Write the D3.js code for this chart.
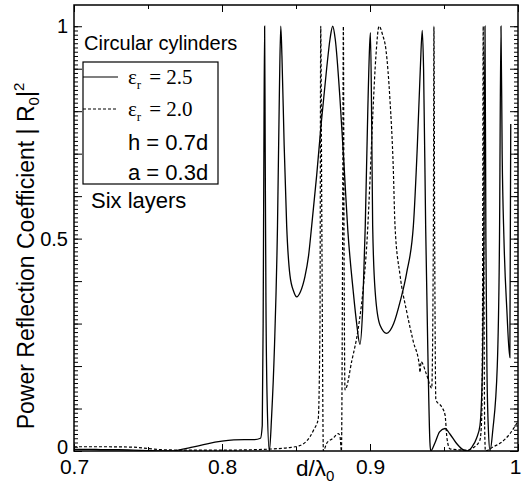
<!DOCTYPE html>
<html>
<head>
<meta charset="utf-8">
<script src="https://cdn.jsdelivr.net/npm/d3@7"></script>
<style>
  body { margin: 0; background: #fff; }
  svg { font-family: "Liberation Sans", Arial, sans-serif; }
</style>
</head>
<body>
<svg id="chart" width="522" height="486"></svg>
<script>
// eps_r = 2.5 (solid)
var solidX = [0.700,0.710,0.720,0.730,0.740,0.750,0.758,0.766,0.772,0.780,0.790,0.800,0.808,0.815,0.822,0.826,
  0.8272,0.8278,0.8283,0.8288,0.8292,0.8297,0.8305,0.8320,0.8335,0.8355,0.8375,0.8388,0.8397,0.8405,0.8420,0.8437,
  0.8459,0.8485,0.8505,0.8530,0.8560,0.8585,0.8606,0.8640,0.8670,0.8707,0.8730,0.8748,0.8765,0.8797,0.8825,0.8850,
  0.8887,0.8910,0.8932,0.8950,0.8968,0.8985,0.8997,0.9003,0.9012,0.9018,0.9035,0.9068,0.9113,0.9160,0.9203,0.9248,
  0.9293,0.9320,0.9340,0.9353,0.9362,0.9376,0.9390,0.9405,0.9410,0.9440,0.9470,0.9507,0.9540,0.9580,0.9620,0.9653,
  0.9690,0.9720,0.9743,0.9760,0.9770,0.9777,0.9783,0.9790,0.9800,0.9811,0.9830,0.9860,0.9875,0.9885,0.9893,0.9905,
  0.9925,0.9945,0.9951];
var solidY = [0.004,0.004,0.003,0.003,0.002,0.001,0.000,0.000,0.003,0.009,0.017,0.023,0.026,0.027,0.027,0.030,
  0.06,0.30,0.70,1.00,0.70,0.35,0.12,0.00,0.08,0.25,0.53,0.85,1.00,0.93,0.72,0.53,
  0.414,0.375,0.363,0.375,0.41,0.46,0.53,0.65,0.77,0.90,0.97,1.00,0.97,0.83,0.67,0.52,
  0.375,0.30,0.251,0.33,0.53,0.80,0.95,0.985,0.75,0.53,0.375,0.296,0.277,0.30,0.351,0.42,
  0.53,0.72,0.90,0.99,0.90,0.53,0.25,0.02,0.00,0.02,0.045,0.053,0.04,0.02,0.005,0.00,
  0.01,0.03,0.06,0.20,0.50,1.00,0.50,0.20,0.05,0.00,0.05,0.20,0.50,1.00,0.70,0.50,
  0.33,0.22,0.77];

// eps_r = 2.0 (dashed)
var dashX = [0.700,0.720,0.740,0.750,0.760,0.780,0.800,0.820,0.835,0.845,0.852,0.8595,0.862,0.865,0.8662,0.8667,
  0.8675,0.8685,0.8707,0.8750,0.8786,0.8797,0.8807,0.8815,0.8820,0.8825,0.8831,0.8878,0.8919,0.8953,0.8980,0.9000,
  0.9020,0.9040,0.9061,0.9085,0.9108,0.9135,0.9157,0.9169,0.9203,0.9248,0.9293,0.9333,0.9338,0.9345,0.9383,0.9417,
  0.9428,0.9432,0.9437,0.9445,0.9484,0.9507,0.9520,0.9540,0.9600,0.9653,0.9700,0.9743,0.9755,0.9760,0.9765,0.9770,
  0.9775,0.9780,0.9833,0.9878,0.9946,1.000];
var dashY = [0.010,0.010,0.009,0.006,0.003,0.002,0.002,0.003,0.005,0.008,0.012,0.034,0.05,0.075,0.30,1.00,
  0.50,0.00,0.018,0.030,0.041,0.035,0.00,0.50,1.00,0.45,0.144,0.214,0.285,0.379,0.496,0.638,
  0.80,0.93,1.00,0.98,0.944,0.826,0.669,0.53,0.414,0.328,0.257,0.202,0.185,0.21,0.179,0.148,
  0.50,1.00,0.50,0.12,0.104,0.085,0.03,0.005,0.003,0.002,0.008,0.026,0.08,0.30,1.00,0.40,
  0.05,0.00,0.010,0.018,0.041,0.07];

var xTickVals = [0.7, 0.8, 0.9, 1.0];
var yTickVals = [0, 0.5, 1];
var legendNotes = ["h = 0.7d", "a = 0.3d"];

var svg = d3.select("#chart");
var plotL = 74, plotR = 518, plotT = 5, plotB = 451;

var x = d3.scaleLinear().domain([0.7, 1.0]).range([plotL, plotR]);
var y = d3.scaleLinear().domain([0, 1.05]).range([plotB, plotT]);

var fmt = function(d) { return d === 1 ? "1" : d === 0 ? "0" : d.toFixed(1); };

// minor / medium ticks (inward)
var yMinor = d3.range(0, 101).map(function(i) { return i / 100; });
var yMid = d3.range(0, 11).map(function(i) { return i / 10; });
var xMinor = d3.range(0, 7).map(function(i) { return 0.7 + i * 0.05; });

function tickAxis(axis, pos, vals, size) {
  var g = svg.append("g").attr("transform", pos)
    .call(axis.tickValues(vals).tickSize(size).tickFormat(""));
  g.select(".domain").remove();
  g.selectAll("line").attr("stroke", "#000").attr("stroke-width", 1);
  return g;
}
tickAxis(d3.axisLeft(y), "translate(" + plotL + ",0)", yMinor, -4);
tickAxis(d3.axisLeft(y), "translate(" + plotL + ",0)", yMid, -8);
tickAxis(d3.axisRight(y), "translate(" + plotR + ",0)", yMinor, -4);
tickAxis(d3.axisRight(y), "translate(" + plotR + ",0)", yMid, -8);
tickAxis(d3.axisTop(x), "translate(0," + plotT + ")", xMinor, -4);
tickAxis(d3.axisTop(x), "translate(0," + plotT + ")", xTickVals, -7);
tickAxis(d3.axisBottom(x), "translate(0," + plotB + ")", xMinor, -4);
tickAxis(d3.axisBottom(x), "translate(0," + plotB + ")", xTickVals, -7);

// labels
var xAx = svg.append("g").attr("transform", "translate(0," + plotB + ")")
  .call(d3.axisBottom(x).tickValues(xTickVals).tickSize(0).tickPadding(8).tickFormat(fmt));
xAx.select(".domain").remove();
xAx.selectAll("text").attr("font-size", 21).attr("font-family", "Liberation Sans, Arial").attr("fill", "#000")
  .attr("dx", function(d) { return d === 1 ? -3 : 0; });

var yAx = svg.append("g").attr("transform", "translate(" + plotL + ",0)")
  .call(d3.axisLeft(y).tickValues(yTickVals).tickSize(0).tickPadding(6).tickFormat(fmt));
yAx.select(".domain").remove();
yAx.selectAll("text").attr("font-size", 20).attr("font-family", "Liberation Sans, Arial").attr("fill", "#000")
  .attr("dy", function(d) { return d === 0 ? "0.12em" : "0.32em"; });

// curves
var line = d3.line().curve(d3.curveMonotoneX);
svg.append("clipPath").attr("id", "clip").append("rect")
  .attr("x", plotL).attr("y", plotT).attr("width", plotR - plotL).attr("height", plotB - plotT);

svg.append("path")
  .attr("clip-path", "url(#clip)")
  .attr("d", line(solidX.map(function(v, i) { return [x(v), y(solidY[i])]; })))
  .attr("fill", "none").attr("stroke", "#000").attr("stroke-width", 1.3);

svg.append("path")
  .attr("clip-path", "url(#clip)")
  .attr("d", line(dashX.map(function(v, i) { return [x(v), y(dashY[i])]; })))
  .attr("fill", "none").attr("stroke", "#000").attr("stroke-width", 1.2)
  .attr("stroke-dasharray", "3,2");

// frame
svg.append("rect").attr("x", plotL).attr("y", plotT).attr("width", plotR - plotL).attr("height", plotB - plotT)
  .attr("fill", "none").attr("stroke", "#000").attr("stroke-width", 1.5);

// axis titles
var yt = svg.append("text").attr("transform", "translate(34,256) rotate(-90)")
  .attr("text-anchor", "middle").attr("font-size", 23);
yt.append("tspan").text("Power Reflection Coefficient  | R");
yt.append("tspan").attr("font-size", 15).attr("dy", 5).text("0");
yt.append("tspan").attr("dy", -5).text("|");
yt.append("tspan").attr("font-size", 15).attr("dy", -10).text("2");

var xt = svg.append("text").attr("x", 296).attr("y", 476).attr("font-size", 22.5);
xt.append("tspan").text("d/\u03bb");
xt.append("tspan").attr("font-size", 15).attr("dy", 5).text("0");

// legend
svg.append("text").attr("x", 84).attr("y", 50).attr("font-size", 20).text("Circular cylinders");
svg.append("rect").attr("x", 83).attr("y", 62).attr("width", 135).attr("height", 122)
  .attr("fill", "#fff").attr("stroke", "#000").attr("stroke-width", 1.2);
svg.append("line").attr("x1", 83).attr("x2", 118).attr("y1", 77).attr("y2", 77)
  .attr("stroke", "#000").attr("stroke-width", 1.2);
svg.append("line").attr("x1", 83).attr("x2", 116).attr("y1", 109).attr("y2", 109)
  .attr("stroke", "#000").attr("stroke-width", 1.2).attr("stroke-dasharray", "3,2");

[["2.5", 84], ["2.0", 116]].forEach(function(r) {
  var t = svg.append("text").attr("x", 128).attr("y", r[1]).attr("font-size", 21)
    .attr("font-family", "Liberation Serif, Times New Roman, serif");
  t.append("tspan").text("\u03b5");
  t.append("tspan").attr("font-size", 13).attr("dy", 5).text("r");
  t.append("tspan").attr("dy", -5).attr("dx", 8).text("= " + r[0]);
});
svg.append("text").attr("x", 128).attr("y", 150).attr("font-size", 22).text(legendNotes[0]);
svg.append("text").attr("x", 128).attr("y", 180).attr("font-size", 22).text(legendNotes[1]);
svg.append("text").attr("x", 91).attr("y", 208).attr("font-size", 22).text("Six layers");
</script>
</body>
</html>
